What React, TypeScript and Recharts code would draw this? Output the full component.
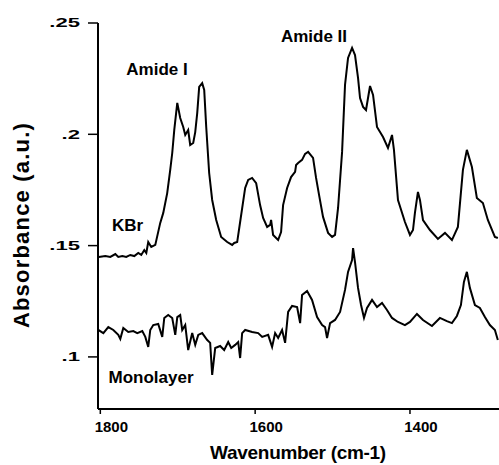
import { LineChart, Line, XAxis, YAxis, ReferenceDot, Label } from "recharts"

// KBr pellet spectrum
const kbrWavenumber = [
  1802, 1793.5, 1787.1, 1780.6, 1776.8, 1771.6, 1766.5, 1761.3, 1756.1, 1751.0,
  1747.1, 1743.2, 1740.6, 1738.1, 1734.2, 1729.0, 1722.6, 1718.7, 1713.6, 1709.7,
  1707.1, 1704.5, 1700.6, 1696.8, 1692.9, 1690.3, 1686.5, 1683.9, 1680.0, 1677.4,
  1674.8, 1672.3, 1668.4, 1665.8, 1663.2, 1659.4, 1655.5, 1650.3, 1643.9, 1636.1,
  1629.7, 1627.1, 1623.2, 1619.4, 1612.9, 1609.0, 1603.9, 1598.7, 1593.6, 1589.7,
  1584.5, 1580.6, 1579.4, 1576.8, 1570.3, 1566.5, 1563.9, 1558.7, 1553.6, 1548.4,
  1547.1, 1544.5, 1539.4, 1535.5, 1531.6, 1525.2, 1521.3, 1517.4, 1512.3, 1505.8,
  1500.6, 1496.8, 1492.9, 1487.7, 1483.9, 1480.0, 1474.8, 1471.0, 1467.1, 1464.5,
  1460.6, 1456.8, 1451.6, 1447.7, 1442.6, 1434.8, 1428.4, 1423.2, 1420.7, 1415.5,
  1406.5, 1400.0, 1396.1, 1393.6, 1389.7, 1387.1, 1383.2, 1374.2, 1363.9, 1354.8,
  1345.8, 1338.1, 1331.6, 1326.5, 1320.0, 1313.6, 1305.8, 1299.4, 1290.3, 1286.5,
]
const kbrAbsorbance = [
  0.1449, 0.1453, 0.1449, 0.1462, 0.1449, 0.1453, 0.1449, 0.1458, 0.1453, 0.1467,
  0.1458, 0.148, 0.1467, 0.1516, 0.1494, 0.1503, 0.1602, 0.1647, 0.1736, 0.184,
  0.1916, 0.2019, 0.2141, 0.2073, 0.2033, 0.1997, 0.2019, 0.1952, 0.1961, 0.201,
  0.2096, 0.2213, 0.223, 0.2199, 0.2033, 0.1826, 0.1705, 0.1615, 0.1539, 0.1516,
  0.1503, 0.1512, 0.1516, 0.1606, 0.1759, 0.1795, 0.1804, 0.1781, 0.1682, 0.1624,
  0.1584, 0.1593, 0.1615, 0.1548, 0.1525, 0.1561, 0.1682, 0.1759, 0.1808, 0.1831,
  0.1862, 0.1871, 0.1885, 0.1912, 0.1921, 0.1894, 0.1804, 0.1727, 0.1629, 0.1557,
  0.1539, 0.1548, 0.1669, 0.1921, 0.2222, 0.2343, 0.2388, 0.2356, 0.2253, 0.2163,
  0.2123, 0.2109, 0.2217, 0.2177, 0.2033, 0.1988, 0.1939, 0.1997, 0.193, 0.1705,
  0.1606, 0.1548, 0.157, 0.1647, 0.1741, 0.1705, 0.1615, 0.157, 0.153, 0.1557,
  0.1525, 0.1584, 0.184, 0.193, 0.1853, 0.1714, 0.1691, 0.1615, 0.1539, 0.1534,
]

// monolayer spectrum
const monoWavenumber = [
  1802.6, 1796.1, 1789.7, 1783.2, 1776.8, 1774.2, 1770.3, 1763.9, 1757.4, 1752.3,
  1745.8, 1741.9, 1738.1, 1735.5, 1731.6, 1725.2, 1720.0, 1717.4, 1712.3, 1707.1,
  1703.2, 1700.6, 1696.8, 1694.2, 1690.3, 1686.5, 1681.3, 1677.4, 1673.5, 1668.4,
  1661.9, 1658.1, 1655.5, 1651.6, 1645.2, 1640.0, 1634.8, 1630.9, 1625.8, 1621.9,
  1619.4, 1616.8, 1612.9, 1603.9, 1596.1, 1590.9, 1583.2, 1578.1, 1574.2, 1570.3,
  1565.2, 1561.3, 1557.4, 1552.3, 1545.8, 1541.9, 1539.4, 1532.9, 1526.5, 1520.0,
  1513.5, 1509.7, 1507.1, 1503.2, 1496.8, 1490.3, 1483.9, 1480.0, 1474.8, 1473.5,
  1471.0, 1467.1, 1463.2, 1459.4, 1455.5, 1449.0, 1442.6, 1436.1, 1429.7, 1423.2,
  1415.5, 1406.5, 1400.0, 1391.0, 1383.2, 1371.6, 1361.3, 1352.3, 1345.8, 1339.4,
  1334.2, 1330.3, 1326.5, 1322.6, 1316.1, 1309.7, 1303.2, 1296.8, 1290.3, 1286.5,
]
const monoAbsorbance = [
  0.1121, 0.1107, 0.1134, 0.1121, 0.1099, 0.1081, 0.113, 0.1112, 0.1116, 0.1107,
  0.1116, 0.109, 0.1045, 0.1121, 0.1143, 0.1148, 0.109, 0.1175, 0.1188, 0.1175,
  0.1099, 0.1179, 0.1188, 0.1121, 0.1143, 0.1031, 0.1107, 0.1054, 0.1099, 0.1107,
  0.1076, 0.1063, 0.0919, 0.104, 0.1049, 0.1031, 0.1067, 0.104, 0.1054, 0.1067,
  0.0995, 0.1107, 0.1121, 0.1112, 0.1107, 0.109, 0.1099, 0.1045, 0.1107, 0.1085,
  0.1121, 0.1063, 0.1202, 0.1229, 0.1224, 0.1152, 0.1278, 0.1296, 0.1256, 0.1179,
  0.1143, 0.1134, 0.1085, 0.1152, 0.1166, 0.1202, 0.1301, 0.1382, 0.1435, 0.1489,
  0.1426, 0.131, 0.1233, 0.1175, 0.122, 0.1256, 0.1224, 0.1242, 0.1211, 0.1175,
  0.1157, 0.1143, 0.1157, 0.1193, 0.1166, 0.1139, 0.1175, 0.1161, 0.1152, 0.1184,
  0.1233, 0.1337, 0.1382, 0.131, 0.1233, 0.122, 0.1179, 0.1143, 0.1121, 0.1076,
]

const xTicks = [1800, 1600, 1400]
const yTicks = [0.1, 0.15, 0.2, 0.25]
const yTickLabels = [".1", ".15", ".2", ".25"]

const noteText = ["Amide I", "Amide II", "KBr", "Monolayer"]
const noteWavenumber = [1726.8, 1524.0, 1764.9, 1734.5]
const noteAbsorbance = [0.2293, 0.2444, 0.1593, 0.091]

const kbrData = kbrWavenumber.map((wn, i) => ({ wn, abs: kbrAbsorbance[i] }))
const monoData = monoWavenumber.map((wn, i) => ({ wn, abs: monoAbsorbance[i] }))

const FONT = "'Liberation Sans', Arial, Helvetica, sans-serif"

function XTick({ x, y, payload }: any) {
  return (
    <text x={x + 11} y={y} dy={16} textAnchor="middle" fontFamily={FONT} fontWeight="bold" fontSize={15} fill="#000">
      {payload.value}
    </text>
  )
}

function YTick({ x, y, payload }: any) {
  const idx = yTicks.indexOf(payload.value)
  return (
    <text
      x={x}
      y={y}
      dy={4.5}
      textAnchor="end"
      fontFamily={FONT}
      fontWeight="bold"
      fontSize={13}
      fill="#000"
      transform={`translate(${x} 0) scale(1.7 1) translate(${-x} 0)`}
    >
      {idx >= 0 ? yTickLabels[idx] : payload.value}
    </text>
  )
}

export default function App() {
  return (
    <div style={{ position: "absolute", left: 0, top: 0, background: "#fff" }}>
      <LineChart width={499} height={465} margin={{ top: 23, right: 0, bottom: 26, left: 38 }}>
        <XAxis
          type="number"
          dataKey="wn"
          domain={[1285, 1803]}
          reversed
          allowDataOverflow
          ticks={xTicks}
          tick={<XTick />}
          tickSize={5}
          height={30}
          axisLine={{ stroke: "#000", strokeWidth: 2 }}
          tickLine={{ stroke: "#000", strokeWidth: 1.5 }}
        >
          <Label
            content={() => (
              <text x={298} y={459} textAnchor="middle" fontFamily={FONT} fontWeight="bold" fontSize={19} letterSpacing={-0.3} fill="#000">
                Wavenumber (cm-1)
              </text>
            )}
          />
        </XAxis>
        <YAxis
          type="number"
          dataKey="abs"
          domain={[0.0766, 0.25]}
          allowDataOverflow
          ticks={yTicks}
          tick={<YTick />}
          tickSize={10}
          tickMargin={8}
          width={60}
          axisLine={{ stroke: "#000", strokeWidth: 2 }}
          tickLine={{ stroke: "#000", strokeWidth: 1.5 }}
        >
          <Label
            content={() => (
              <text
                x={21}
                y={225}
                textAnchor="middle"
                dominantBaseline="central"
                transform="rotate(-90 21 225)"
                fontFamily={FONT}
                fontWeight="bold"
                fontSize={22}
                letterSpacing={1.2}
                fill="#000"
              >
                Absorbance (a.u.)
              </text>
            )}
          />
        </YAxis>
        <Line data={kbrData} dataKey="abs" type="linear" stroke="#000" strokeWidth={2} dot={false} isAnimationActive={false} />
        <Line data={monoData} dataKey="abs" type="linear" stroke="#000" strokeWidth={2} dot={false} isAnimationActive={false} />
        {noteText.map((t, i) => (
          <ReferenceDot
            key={t}
            x={noteWavenumber[i]}
            y={noteAbsorbance[i]}
            r={0}
            fill="none"
            stroke="none"
            label={{ value: t, position: "center", fontFamily: FONT, fontWeight: "bold", fontSize: 17, fill: "#000" }}
          />
        ))}
      </LineChart>
    </div>
  )
}
